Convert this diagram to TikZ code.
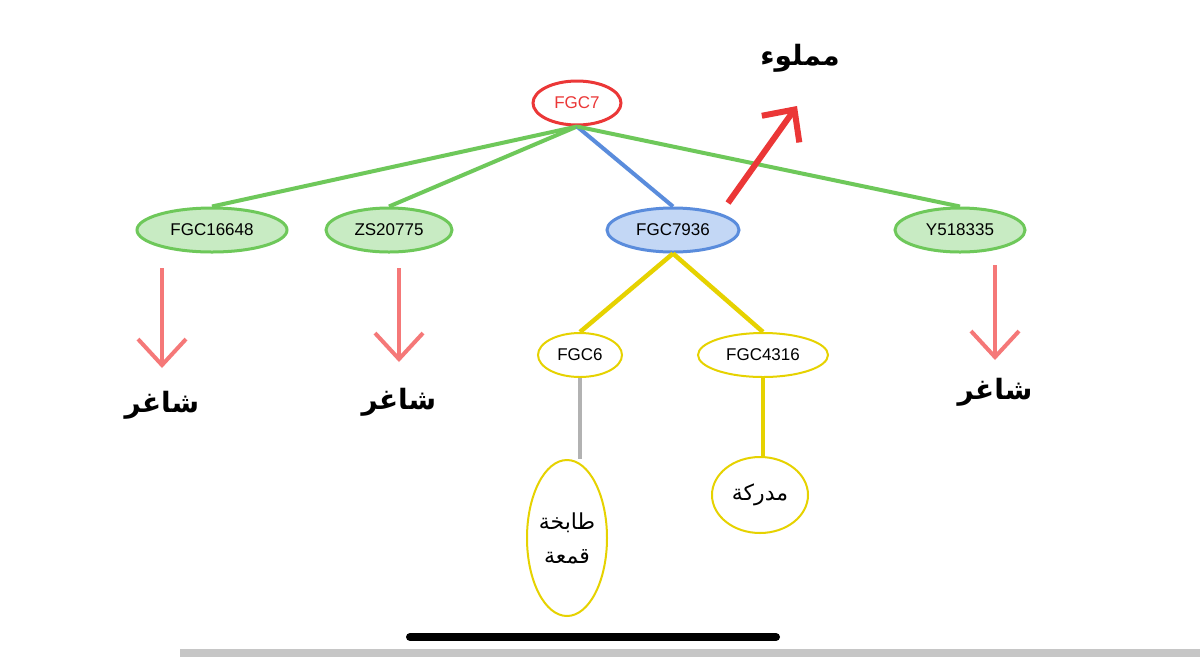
\documentclass[tikz,border=0pt]{standalone}
\usepackage{fontspec}
\setmainfont{Liberation Sans}
\newfontfamily\arabicfont[Script=Arabic]{DejaVu Sans}
\TeXXeTstate=1
\usetikzlibrary{shapes.geometric,arrows.meta}
\definecolor{gline}{RGB}{110,200,90}
\definecolor{gfill}{RGB}{200,235,195}
\definecolor{bline}{RGB}{90,140,220}
\definecolor{bfill}{RGB}{195,215,245}
\definecolor{yline}{RGB}{230,210,0}
\definecolor{rline}{RGB}{235,55,55}
\definecolor{pink}{RGB}{245,120,120}
\tikzset{
 ell/.style={ellipse,draw,line width=3pt,inner sep=0pt,font=\fontsize{17}{20}\selectfont},
 gnode/.style={ell,draw=gline,fill=gfill,minimum width=150pt,minimum height=44pt},
 ynode/.style={ell,draw=yline,fill=white,line width=2pt,minimum height=44pt},
 glink/.style={gline,line width=4pt},
 ylink/.style={yline,line width=4.5pt},
 pdown/.style={pink,line width=4pt,-{Straight Barb[length=26pt,width=48pt,line width=4pt]}},
 artxt/.style={font=\arabicfont\bfseries\fontsize{28}{34}\selectfont},
}
\begin{document}
\begin{tikzpicture}[x=1pt,y=-1pt]
\useasboundingbox (0,0) rectangle (1200,657);
\fill[white] (0,0) rectangle (1200,657);
\node[ell,draw=rline,fill=white,minimum width=88pt,minimum height=44pt,text=rline] (r) at (577,103) {FGC7};
\node[gnode] (a) at (212,230) {FGC16648};
\node[gnode,minimum width=126pt] (b) at (389,230) {ZS20775};
\node[ell,draw=bline,fill=bfill,minimum width=132pt,minimum height=44pt] (c) at (673,230) {FGC7936};
\node[gnode,minimum width=130pt] (d) at (960,230) {Y518335};
\draw[glink] (r.south) -- (a.north);
\draw[glink] (r.south) -- (b.north);
\draw[bline,line width=4pt] (r.south) -- (c.north);
\draw[glink] (r.south) -- (d.north);
\node[artxt] (m) at (800,58) {\beginR مملوء\endR};
\coordinate (m1) at (728,203);
\coordinate (m2) at (797,106);
\draw[rline,line width=6pt,-{Straight Barb[length=24pt,width=46pt,line width=6pt]}] (m1) -- (m2);
\foreach \x/\ya/\yb/\yt/\n in {162/268/368/405/1,399/268/362/402/2,995/265/360/392/3}{
 \coordinate (s\n) at (\x,\ya); \coordinate (e\n) at (\x,\yb);
 \draw[pdown] (s\n) -- (e\n);
 \node[artxt] (t\n) at (\x,\yt) {\beginR شاغر\endR};
}
\node[ynode,minimum width=84pt] (f6) at (580,355) {FGC6};
\node[ynode,minimum width=130pt] (f4) at (763,355) {FGC4316};
\draw[ylink] (c.south) -- (f6.north);
\draw[ylink] (c.south) -- (f4.north);
\node[ynode,minimum width=80pt,minimum height=156pt,font=\arabicfont\fontsize{22}{34}\selectfont,align=center] (q) at (567,538) {\beginR طابخة\endR\\\beginR قمعة\endR};
\node[ynode,minimum width=96pt,minimum height=76pt,font=\arabicfont\fontsize{22}{28}\selectfont] (k) at (760,495) {\beginR مدركة\endR};
\draw[gray!60,line width=4pt] (f6.south) -- (q.north -| f6.south);
\draw[ylink] (f4.south) -- (k.north -| f4.south);
\coordinate (h1) at (410,637); \coordinate (h2) at (776,637);
\draw[black,line width=8pt,line cap=round] (h1) -- (h2);
\fill[gray!45] (180,649) rectangle (1200,657);
\end{tikzpicture}
\end{document}
